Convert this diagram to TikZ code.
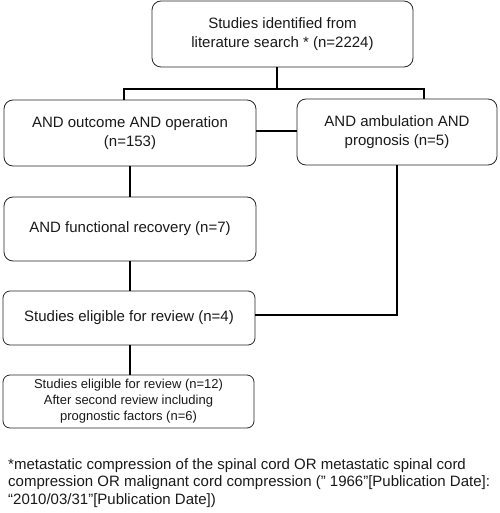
\documentclass[tikz,border=0pt]{standalone}
\usepackage{fontspec}
\setmainfont{Liberation Sans}
\begin{document}
\begin{tikzpicture}[x=1pt,y=1pt,
  box/.style={draw=black!85, line width=0.8pt, rounded corners=9pt, align=center,
    inner sep=2pt, font=\fontsize{15}{19}\selectfont, text=black!90},
  conn/.style={line width=2.2pt, black}]
\useasboundingbox (0,0) rectangle (499,-513);
\node[box, minimum width=261pt, minimum height=66pt] (top) at (282.5,-34) {Studies identified from\\literature search * (n=2224)};
\node[box, minimum width=252pt, minimum height=66pt] (left) at (130,-133) {AND outcome AND operation\\(n=153)};
\node[box, minimum width=200pt, minimum height=66pt] (right) at (397,-132) {AND ambulation AND\\prognosis (n=5)};
\node[box, minimum width=252pt, minimum height=64pt] (func) at (130,-229) {AND functional recovery (n=7)};
\node[box, minimum width=252pt, minimum height=54pt, rounded corners=7pt] (elig) at (129,-318) {Studies eligible for review (n=4)};
\node[box, minimum width=251pt, minimum height=53pt, rounded corners=7pt, font=\fontsize{13}{16}\selectfont] (final) at (128.5,-401.5) {Studies eligible for review (n=12)\\After second review including\\prognostic factors (n=6)};
\node[anchor=north west, align=left, inner sep=0pt, font=\fontsize{15}{17.5}\selectfont, text=black!90] (note) at (8,-458) {*metastatic compression of the spinal cord OR metastatic spinal cord\\compression OR malignant cord compression (" 1966”[Publication Date]:\\“2010/03/31”[Publication Date])};
\coordinate (jL) at (124,-89);
\coordinate (jR) at (424,-89);
\draw[conn] ([xshift=-5.5pt]top.south) -- ([xshift=-5.5pt]top.south |- jL);
\draw[conn] (jL |- left.north) -- (jL) -- (jR) -- (jR |- right.north);
\draw[conn] ([yshift=2pt]left.east) -- ([yshift=2pt]left.east -| right.west);
\draw[conn] (left.south) -- (left.south |- func.north);
\draw[conn] (func.south) -- (func.south |- elig.north);
\draw[conn] ([xshift=1pt]elig.south) -- ([xshift=1pt]elig.south |- final.north);
\draw[conn] (right.south) |- ([yshift=3pt]elig.east);
\end{tikzpicture}
\end{document}
